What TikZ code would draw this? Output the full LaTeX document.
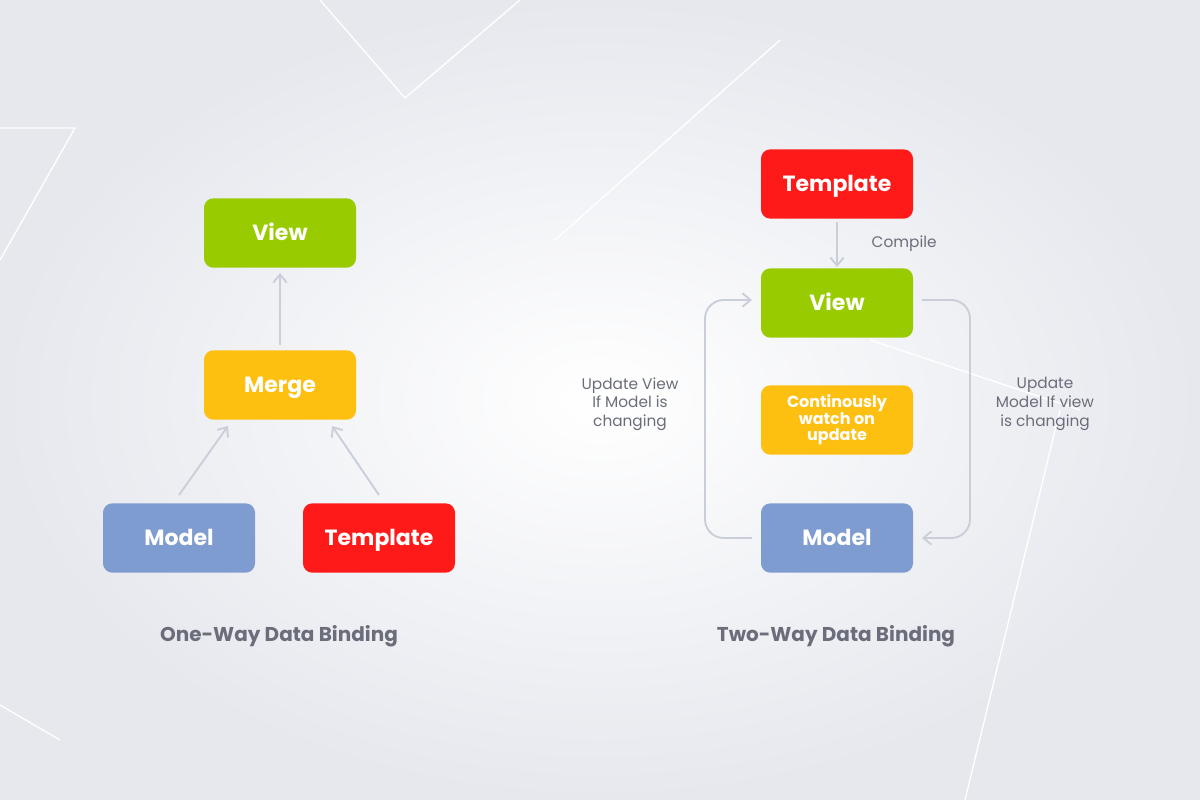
\documentclass[tikz,border=0pt]{standalone}
\usepackage{fontspec}
\setmainfont{Poppins}
\usetikzlibrary{arrows.meta}
\definecolor{cgreen}{HTML}{99CC00}
\definecolor{cyellow}{HTML}{FDC010}
\definecolor{cblue}{HTML}{7F9CD0}
\definecolor{cred}{HTML}{FF1A1A}
\definecolor{cline}{HTML}{C9CED9}
\definecolor{ctext}{HTML}{6B6E7A}
\definecolor{cbg}{HTML}{E6E8EE}
\tikzset{
 box/.style={rounded corners=7pt,minimum width=114pt,minimum height=52pt,text=white,font=\fontsize{16.5}{18}\selectfont\bfseries,align=center,text depth=0pt,text height=11pt},
 conn/.style={draw=cline,line width=1.4pt,-{Straight Barb[length=6pt,width=10pt]}},
 lbl/.style={text=ctext,font=\fontsize{11.5}{14}\selectfont,align=center},
 title/.style={text=ctext,font=\fontsize{15}{17}\selectfont\bfseries}
}
\begin{document}
\begin{tikzpicture}[x=0.75pt,y=-0.75pt]
\useasboundingbox (0,0) rectangle (1200,800);
\fill[cbg] (0,0) rectangle (1200,800);
\fill[inner color=white,outer color=cbg] (0,0) rectangle (1200,800);
\draw[white,line width=1pt] (320,0) -- (405,98) -- (520,0);
\draw[white,line width=1pt] (0,128) -- (75,128) -- (0,260);
\draw[white,line width=1pt] (555,240) -- (780,40);
\draw[white,line width=1pt] (870,340) -- (1080,410);
\draw[white,line width=1pt] (1060,410) -- (965,800);
\draw[white,line width=1pt] (0,705) -- (60,740);
% one-way
\node[box,fill=cgreen] (v1) at (280,233) {View};
\node[box,fill=cyellow] (m1) at (280,385) {Merge};
\node[box,fill=cblue] (mo1) at (179,538) {Model};
\node[box,fill=cred] (t1) at (379,538) {Template};
\coordinate (a1) at (280,345); \coordinate (a2) at (280,273);
\coordinate (b1) at (179,495); \coordinate (b2) at (228,426);
\coordinate (c1) at (379,495); \coordinate (c2) at (332,426);
\draw[conn] (a1) -- (a2);
\draw[conn] (b1) -- (b2);
\draw[conn] (c1) -- (c2);
\node[title] (tt1) at (279,636) {One-Way Data Binding};
% two-way
\node[box,fill=cred] (t2) at (837,184) {Template};
\node[box,fill=cgreen] (v2) at (837,303) {View};
\node[box,fill=cyellow,font=\fontsize{12}{12.5}\selectfont\bfseries,text height=,text depth=] (w2) at (837,420) {Continously\\watch on\\update};
\node[box,fill=cblue] (mo2) at (837,538) {Model};
\coordinate (d1) at (837,222); \coordinate (d2) at (837,267);
\draw[conn] (d1) -- (d2);
\node[lbl,anchor=west] (cp) at (867,244) {Compile};
\coordinate (l1) at (752,538); \coordinate (l2) at (752,300);
\draw[conn,rounded corners=14pt] (l1) -- (705,538) -- (705,300) -- (l2);
\coordinate (r1) at (922,300); \coordinate (r2) at (922,538);
\draw[conn,rounded corners=14pt] (r1) -- (970,300) -- (970,538) -- (r2);
\node[lbl] (ul) at (630,404) {Update View\\If Model is\\changing};
\node[lbl] (ur) at (1045,404) {Update\\Model If view\\is changing};
\node[title] (tt2) at (836,636) {Two-Way Data Binding};
\end{tikzpicture}
\end{document}
